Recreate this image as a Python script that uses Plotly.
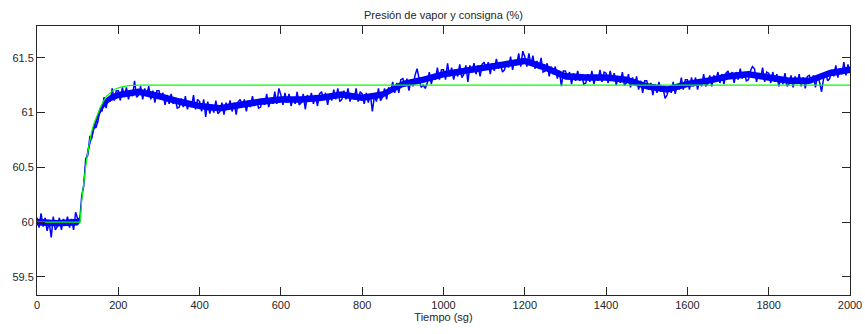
import plotly.graph_objects as go

t_meas = list(range(0, 2001, 5))
presion = [
    60.04,59.95,60.08,59.96,60.04,59.92,60.00,59.86,60.05,59.93,
    59.96,60.04,59.93,60.03,59.97,60.05,59.95,60.03,59.93,60.09,
    60.03,60.00,60.24,60.33,60.58,60.61,60.78,60.77,60.88,60.86,
    60.92,61.04,61.01,61.14,61.04,61.14,61.10,61.22,61.11,61.20,
    61.20,61.11,61.23,61.14,61.23,61.12,61.20,61.15,61.29,61.14,
    61.16,61.24,61.12,61.22,61.16,61.24,61.12,61.20,61.09,61.20,
    61.20,61.12,61.18,61.07,61.16,61.08,61.17,61.08,61.12,61.04,
    61.05,61.13,61.05,61.15,61.03,61.10,61.05,61.16,61.03,61.12,
    61.10,61.01,61.12,60.96,61.10,60.99,61.06,61.00,61.11,60.99,
    61.01,61.09,60.98,61.09,61.03,61.11,61.01,61.09,60.98,61.10,
    61.12,61.05,61.12,61.01,61.11,61.05,61.15,61.06,61.12,61.04,
    61.05,61.13,61.07,61.17,61.05,61.13,61.08,61.19,61.08,61.22,
    61.16,61.07,61.18,61.09,61.17,61.06,61.14,61.08,61.19,61.07,
    61.09,61.17,61.03,61.16,61.10,61.18,61.08,61.16,61.06,61.17,
    61.19,61.12,61.18,61.07,61.17,61.11,61.21,61.12,61.22,61.10,
    61.12,61.20,61.12,61.22,61.10,61.17,61.12,61.22,61.10,61.19,
    61.17,61.08,61.18,61.09,61.17,61.01,61.15,61.10,61.22,61.11,
    61.14,61.22,61.12,61.23,61.19,61.28,61.18,61.27,61.18,61.30,
    61.31,61.24,61.31,61.20,61.30,61.24,61.34,61.40,61.31,61.23,
    61.25,61.22,61.27,61.37,61.26,61.34,61.30,61.41,61.30,61.39,
    61.39,61.30,61.45,61.33,61.41,61.30,61.38,61.33,61.44,61.32,
    61.35,61.43,61.28,61.43,61.37,61.45,61.35,61.43,61.33,61.44,
    61.46,61.39,61.46,61.35,61.45,61.38,61.49,61.40,61.45,61.37,
    61.39,61.47,61.41,61.51,61.39,61.48,61.43,61.54,61.42,61.56,
    61.51,61.42,61.54,61.44,61.52,61.40,61.47,61.40,61.50,61.37,
    61.38,61.45,61.33,61.42,61.35,61.42,61.31,61.38,61.24,61.38,
    61.38,61.31,61.37,61.26,61.36,61.29,61.38,61.29,61.34,61.26,
    61.27,61.35,61.28,61.38,61.26,61.34,61.29,61.39,61.28,61.37,
    61.36,61.27,61.38,61.29,61.36,61.25,61.33,61.27,61.37,61.25,
    61.27,61.35,61.23,61.32,61.25,61.33,61.21,61.29,61.18,61.29,
    61.29,61.21,61.27,61.16,61.26,61.18,61.28,61.19,61.23,61.13,
    61.16,61.24,61.18,61.28,61.17,61.25,61.21,61.32,61.21,61.30,
    61.30,61.21,61.32,61.24,61.32,61.21,61.29,61.24,61.35,61.24,
    61.26,61.34,61.24,61.34,61.29,61.37,61.27,61.35,61.26,61.36,
    61.38,61.31,61.37,61.27,61.37,61.30,61.40,61.31,61.37,61.29,
    61.30,61.38,61.42,61.40,61.28,61.36,61.31,61.41,61.28,61.37,
    61.36,61.27,61.37,61.28,61.35,61.24,61.32,61.26,61.36,61.24,
    61.26,61.34,61.23,61.33,61.27,61.35,61.24,61.32,61.22,61.33,
    61.34,61.27,61.34,61.23,61.34,61.28,61.19,61.31,61.36,61.29,
    61.31,61.39,61.33,61.43,61.32,61.40,61.35,61.46,61.34,61.44,
    61.36,
]

# Dense core of the noisy measurement (upper / lower edge of the solid band)
t_band = [0, 50, 100, 105, 110, 115, 120, 125, 130, 140, 150, 160, 170, 180, 200, 250,
          300, 350, 400, 450, 500, 550, 600, 650, 700, 750, 800, 850, 900, 950, 1000,
          1050, 1100, 1150, 1200, 1250, 1300, 1350, 1400, 1450, 1500, 1550, 1600, 1650,
          1700, 1750, 1800, 1850, 1900, 1950, 2000]
band_hi = [60.03, 60.02, 60.03, 60.05, 60.23, 60.43, 60.58, 60.68, 60.75, 60.89, 61.00,
           61.08, 61.13, 61.16, 61.19, 61.22, 61.18, 61.13, 61.09, 61.07, 61.10, 61.13,
           61.15, 61.15, 61.165, 61.195, 61.165, 61.195, 61.29, 61.33, 61.38, 61.41,
           61.44, 61.47, 61.50, 61.44, 61.36, 61.35, 61.35, 61.33, 61.27, 61.24, 61.29,
           61.32, 61.36, 61.38, 61.35, 61.32, 61.32, 61.39, 61.42]
band_lo = [59.97, 59.96, 59.97, 59.99, 60.17, 60.37, 60.52, 60.62, 60.69, 60.83, 60.94,
           61.02, 61.07, 61.10, 61.13, 61.16, 61.12, 61.07, 61.03, 61.01, 61.04, 61.07,
           61.09, 61.09, 61.105, 61.135, 61.105, 61.135, 61.23, 61.27, 61.32, 61.35,
           61.38, 61.41, 61.44, 61.38, 61.30, 61.29, 61.29, 61.27, 61.21, 61.18, 61.23,
           61.26, 61.30, 61.32, 61.29, 61.26, 61.26, 61.33, 61.36]

# Setpoint (consigna)
t_cons = [0, 106, 110, 116, 122, 128, 134, 140, 147, 155, 163, 171, 180, 190, 204, 225, 253, 2000]
consigna = [60.0, 60.0, 60.2, 60.4, 60.57, 60.7, 60.82, 60.9, 60.97, 61.04, 61.1, 61.15, 61.18, 61.21, 61.23, 61.245, 61.25, 61.25]

x_ticks = [0, 200, 400, 600, 800, 1000, 1200, 1400, 1600, 1800, 2000]
y_ticks = [59.5, 60, 60.5, 61, 61.5]
y_tick_text = ["59.5", "60", "60.5", "61", "61.5"]

BLUE = "#0000FF"
FONT = "Liberation Sans, Arial, Helvetica"
INK = "#262626"

fig = go.Figure()
fig.add_trace(go.Scatter(x=t_band, y=band_lo, mode="lines", line=dict(width=0, color=BLUE),
                         showlegend=False, hoverinfo="skip"))
fig.add_trace(go.Scatter(x=t_band, y=band_hi, mode="lines", line=dict(width=0, color=BLUE),
                         fill="tonexty", fillcolor=BLUE, showlegend=False, hoverinfo="skip"))
fig.add_trace(go.Scatter(x=t_meas, y=presion, mode="lines",
                         line=dict(color=BLUE, width=1.5), showlegend=False))
fig.add_trace(go.Scatter(x=t_cons, y=consigna, mode="lines",
                         line=dict(color="#00FF00", width=1.2), showlegend=False))

axis_common = dict(showgrid=False, zeroline=False, showline=True, linecolor=INK,
                   linewidth=1, mirror="ticks", ticks="inside", ticklen=8,
                   tickcolor=INK, automargin=False,
                   tickfont=dict(family=FONT, size=11, color=INK))

fig.update_layout(
    width=865, height=334, autosize=False,
    margin=dict(l=37, r=15, t=26, b=39, autoexpand=False),
    paper_bgcolor="white", plot_bgcolor="white",
    title=dict(text="Presión de vapor y consigna (%)", x=(37 + 850) / 2 / 865, xanchor="center",
               y=1 - 15 / 334, yanchor="middle",
               font=dict(family=FONT, size=11, color=INK)),
    xaxis=dict(range=[0, 2000], tickvals=x_ticks,
               title=dict(text="Tiempo (sg)", standoff=3,
                          font=dict(family=FONT, size=11, color=INK)),
               **axis_common),
    yaxis=dict(range=[59.335, 61.79], tickvals=y_ticks, ticktext=y_tick_text, **axis_common),
)

fig.write_html("out.html")
